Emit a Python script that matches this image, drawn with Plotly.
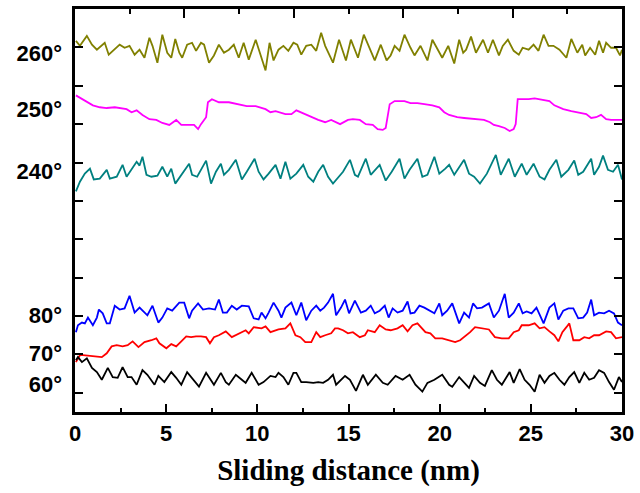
import plotly.graph_objects as go

# ---------------- data (offset units of the stacked plot) ----------------
olive_x = [0.05,0.27,0.65,0.93,1.20,1.63,1.85,2.18,2.45,2.72,2.99,3.27,3.54,3.81,4.08,4.25,4.52,4.79,5.06,5.28,
           5.50,5.72,5.88,6.15,6.42,6.64,6.91,7.08,7.35,7.62,7.89,8.17,8.44,8.71,8.98,9.25,9.53,9.91,10.18,10.45,
           10.67,10.89,11.16,11.43,11.70,11.98,12.19,12.41,12.68,12.96,13.23,13.50,13.72,14.15,14.48,14.70,14.86,15.13,15.52,15.84,
           16.17,16.44,16.77,17.09,17.31,17.53,17.80,18.07,18.40,18.62,18.95,19.33,19.60,19.92,20.14,20.47,20.80,21.07,21.29,21.45,
           21.72,21.99,22.38,22.65,22.92,23.25,23.46,23.74,24.06,24.34,24.55,24.88,25.15,25.42,25.70,25.97,26.24,26.57,26.95,27.22,
           27.55,27.82,27.98,28.25,28.53,28.74,28.96,29.13,29.40,29.67,29.89,30.00]
olive_y = [91.7,90.4,93.0,90.7,89.4,91.2,88.1,89.4,90.7,89.9,90.4,88.1,89.4,87.3,92.5,90.4,86.0,93.3,88.6,87.3,
           92.2,88.6,87.3,90.7,91.2,89.1,91.2,90.7,86.0,87.9,90.7,88.6,89.4,90.7,87.3,91.2,86.8,92.0,87.9,84.0,
           91.2,86.6,89.4,90.4,89.1,91.2,90.7,88.1,90.4,90.7,89.1,93.8,90.4,86.0,92.0,88.6,86.6,92.0,87.3,93.3,
           89.4,86.6,90.7,86.6,87.9,90.4,89.1,93.3,89.9,87.9,90.4,86.6,92.0,89.4,87.3,90.4,85.8,92.0,88.6,89.4,
           92.8,88.6,92.0,88.6,92.0,87.9,90.4,92.0,89.1,88.1,89.9,89.4,90.7,89.1,93.3,90.4,90.4,89.4,87.3,92.2,
           88.6,90.7,87.9,89.9,88.1,91.7,88.6,91.2,89.9,89.9,87.9,89.4]

magenta_x = [0.05,0.38,0.65,0.98,1.36,1.74,2.18,2.83,3.10,3.38,3.70,4.08,4.46,4.79,5.17,5.55,5.83,6.10,6.53,6.75,
             6.91,7.19,7.29,7.51,7.89,8.44,8.98,9.42,9.91,10.45,10.72,11.00,11.54,11.87,12.14,12.63,12.96,13.34,13.72,14.05,
             14.54,14.97,15.24,15.62,15.95,16.33,16.60,16.88,17.04,17.26,17.53,18.07,18.40,18.78,19.16,19.60,19.98,20.25,20.52,20.96,
             21.34,21.89,22.43,22.76,22.97,23.25,23.57,23.84,24.06,24.17,24.28,24.61,24.88,25.21,25.70,26.02,26.29,26.78,27.22,27.49,
             28.04,28.31,28.58,28.85,29.13,29.40,30.00]
magenta_y = [77.5,76.5,75.7,74.9,74.4,74.2,74.4,73.9,73.1,73.6,72.4,71.3,71.1,70.3,69.8,71.1,69.8,69.8,69.8,68.7,
             70.0,71.8,75.7,76.5,75.7,75.7,75.2,74.7,74.7,73.9,73.1,73.4,72.6,72.6,73.6,72.6,71.8,71.1,70.5,71.1,
             70.0,71.1,71.3,71.1,70.0,69.8,68.7,68.5,69.0,75.2,76.0,76.0,75.5,75.5,75.2,74.9,74.4,73.1,72.4,71.8,
             71.6,71.3,71.1,70.5,69.8,69.5,69.0,68.2,68.7,70.0,76.5,76.5,76.5,76.7,76.2,76.0,74.9,73.9,73.4,73.1,
             72.6,71.6,71.8,72.4,71.3,71.1,71.1]

teal_x = [0.05,0.27,0.54,0.82,1.03,1.36,1.74,1.91,2.29,2.61,2.83,3.10,3.38,3.54,3.70,3.92,4.19,4.52,4.79,5.06,
          5.28,5.50,5.83,6.26,6.42,6.70,7.19,7.46,7.73,8.00,8.17,8.44,8.82,9.15,9.42,9.85,10.07,10.34,10.62,11.00,
          11.27,11.54,11.81,12.14,12.52,12.79,13.07,13.34,13.61,13.88,14.15,14.70,15.08,15.35,15.52,15.95,16.22,16.71,17.04,17.37,
          17.80,18.07,18.35,18.78,19.05,19.33,19.71,19.98,20.31,20.52,20.80,21.34,21.61,21.89,22.21,22.59,23.08,23.35,23.79,24.12,
          24.50,24.77,25.15,25.48,25.75,26.02,26.40,26.67,27.06,27.38,27.60,27.87,28.31,28.47,28.74,28.96,29.23,29.51,29.78,30.00]
teal_y = [52.5,55.0,57.1,58.4,55.6,55.8,58.1,55.8,56.3,59.4,56.3,58.1,60.2,59.2,61.5,56.8,56.3,56.6,58.9,56.3,
          58.4,54.5,56.8,59.7,56.8,56.3,60.5,54.5,57.6,59.7,56.8,58.1,60.7,55.6,57.6,61.0,57.6,55.6,57.1,59.4,
          55.8,60.2,55.8,57.1,59.4,56.3,55.0,57.6,59.4,56.3,54.5,57.6,60.7,56.8,56.3,61.0,56.8,59.4,55.3,57.6,
          61.0,55.8,58.1,61.0,56.3,56.8,61.5,57.1,58.4,59.4,56.8,60.7,57.1,56.3,54.5,57.1,62.0,56.8,61.0,56.3,
          59.7,56.8,59.7,56.3,55.6,58.1,60.7,56.3,58.1,60.5,56.8,57.6,61.0,56.8,58.9,61.8,58.1,57.6,59.4,55.6]

blue_x = [0.05,0.16,0.38,0.54,0.71,0.98,1.20,1.31,1.52,1.74,1.91,2.18,2.45,2.72,2.99,3.27,3.54,3.70,3.97,4.25,
          4.57,4.79,5.06,5.33,5.72,5.99,6.26,6.42,6.75,7.02,7.35,7.68,7.89,8.11,8.33,8.60,8.87,9.15,9.53,9.80,
          10.07,10.23,10.45,10.62,10.89,11.16,11.32,11.54,11.87,12.14,12.41,12.68,12.96,13.23,13.45,13.66,13.88,14.15,14.32,14.59,
          14.81,15.03,15.35,15.68,15.95,16.22,16.44,16.71,16.99,17.20,17.42,17.69,17.97,18.24,18.40,18.62,18.89,19.16,19.44,19.71,
          19.98,20.14,20.41,20.69,21.07,21.34,21.61,21.83,22.05,22.32,22.70,22.97,23.25,23.57,23.79,24.06,24.34,24.55,24.77,25.04,
          25.31,25.70,26.02,26.29,26.51,26.78,27.06,27.33,27.60,27.87,28.09,28.31,28.47,28.74,29.02,29.29,29.56,29.78,30.00]
blue_y = [15.8,17.6,18.3,18.1,19.6,17.6,19.6,21.7,20.7,18.1,18.1,22.7,21.7,22.0,25.3,20.9,22.2,21.4,20.2,22.7,
          18.3,19.6,22.0,21.4,23.5,23.5,19.4,21.4,23.3,21.7,22.0,21.7,24.3,20.9,20.9,22.7,21.7,22.7,22.5,19.4,
          19.1,20.9,19.4,20.9,23.5,21.4,19.6,22.2,23.5,20.2,23.5,18.9,21.4,22.7,21.4,22.2,23.5,25.8,20.2,22.2,
          24.3,20.7,24.0,20.9,21.4,22.7,20.7,21.4,22.7,19.6,22.0,20.9,21.4,23.8,20.7,20.9,22.7,22.2,21.4,20.7,
          23.3,20.2,21.4,23.3,18.1,20.9,19.6,23.3,22.0,22.2,23.3,19.6,21.4,25.8,19.6,20.9,23.3,20.7,21.2,20.7,
          22.2,18.1,22.2,23.3,19.1,21.4,22.0,22.0,19.4,19.6,20.9,24.3,20.2,20.9,20.7,21.4,20.7,18.3,17.6]

red_x = [0.05,0.27,0.44,0.93,1.20,1.47,1.74,2.01,2.29,2.61,2.89,3.16,3.48,3.81,4.19,4.46,4.63,4.79,5.01,5.28,
         5.55,5.83,6.10,6.37,6.64,6.91,7.19,7.40,7.62,7.89,8.27,8.60,8.98,9.36,9.53,9.80,10.23,10.45,10.72,11.16,
         11.54,11.81,12.09,12.36,12.63,12.96,13.23,13.45,13.72,14.05,14.26,14.43,14.70,14.97,15.24,15.62,15.90,16.06,16.44,16.71,
         17.04,17.31,17.69,17.97,18.24,18.51,18.78,18.95,19.22,19.49,19.76,20.14,20.52,20.85,21.12,21.39,21.67,21.94,22.32,22.70,
         23.03,23.41,23.79,24.06,24.34,24.50,24.88,25.21,25.48,25.75,26.02,26.29,26.51,26.73,26.95,27.11,27.33,27.66,27.93,28.20,
         28.47,28.74,29.13,29.40,29.67,30.00]
red_y = [8.0,9.8,9.8,9.6,9.3,9.3,10.3,12.1,12.4,12.1,12.4,13.4,11.9,13.2,13.7,14.2,12.9,12.4,11.6,12.7,
         12.1,13.4,14.7,14.5,14.7,14.7,14.5,12.9,14.5,15.0,16.0,14.5,15.5,16.3,15.5,17.1,16.8,17.3,15.8,16.5,
         16.8,18.1,15.0,14.5,13.2,13.2,15.8,14.5,15.0,15.5,16.8,16.8,16.3,15.5,15.8,14.5,15.0,16.3,15.8,17.6,
         16.5,16.3,16.8,17.6,16.0,17.6,18.1,17.1,15.8,15.5,14.2,14.2,13.7,13.2,13.7,14.7,15.8,17.1,16.8,16.5,
         14.5,14.2,14.2,15.8,16.3,17.6,17.6,18.1,16.8,17.1,16.0,15.0,13.4,15.8,17.1,18.1,13.7,13.7,14.5,14.2,
         15.0,15.0,16.0,15.8,14.2,14.5]

black_x = [0.05,0.16,0.38,0.65,0.93,1.20,1.47,1.80,2.07,2.34,2.61,2.89,3.10,3.38,3.70,3.97,4.36,4.57,4.90,5.28,
           5.55,5.83,6.15,6.42,6.80,7.19,7.46,7.62,8.00,8.27,8.44,8.82,9.15,9.36,9.69,10.07,10.34,10.72,11.00,11.16,
           11.43,11.70,11.98,12.14,12.41,12.68,13.07,13.34,13.61,13.88,14.15,14.32,14.81,15.08,15.41,15.79,16.06,16.50,16.88,17.15,
           17.58,17.97,18.35,18.67,19.05,19.33,19.71,20.14,20.52,20.69,21.07,21.34,21.61,21.89,22.21,22.48,22.86,23.14,23.41,23.84,
           24.06,24.39,24.66,24.93,25.21,25.48,25.75,26.02,26.29,26.57,26.84,27.11,27.38,27.66,27.93,28.20,28.47,28.74,29.02,29.29,
           29.56,29.83,30.00]
black_y = [8.5,9.3,8.0,9.0,6.5,5.4,3.4,6.5,4.1,3.9,6.7,4.1,4.1,2.1,5.9,4.7,2.1,4.4,2.8,5.4,
           3.9,2.1,5.4,3.9,1.6,5.2,3.4,2.1,5.2,2.8,2.1,4.7,3.4,2.6,5.2,2.1,2.8,4.4,4.1,5.2,
           4.1,2.1,5.2,5.2,2.8,2.8,2.6,2.8,2.6,3.4,4.7,2.1,4.4,3.4,0.5,4.7,2.1,4.7,2.6,2.1,
           4.4,3.4,4.7,2.1,0.3,2.6,3.4,4.7,2.1,1.6,4.1,2.6,1.3,4.4,2.6,1.8,5.9,3.4,2.1,5.4,
           2.6,6.2,3.4,2.1,0.3,4.7,2.6,4.4,5.2,3.4,2.1,4.1,5.4,2.6,5.2,3.4,3.9,5.9,5.2,2.8,
           0.8,4.1,2.8]

label_pos = [88.4, 73.9, 57.6, 20.2, 10.3, 2.1]
label_text = ["260°", "250°", "240°", "80°", "70°", "60°"]

series = [
    (olive_x, olive_y, "#808000"),
    (magenta_x, magenta_y, "#FF00FF"),
    (teal_x, teal_y, "#008080"),
    (blue_x, blue_y, "#0000FF"),
    (red_x, red_y, "#FF0000"),
    (black_x, black_y, "#000000"),
]

fig = go.Figure()
for xs, ys, c in series:
    fig.add_trace(go.Scatter(x=xs, y=ys, mode="lines", line=dict(color=c, width=1.8),
                             showlegend=False, hoverinfo="skip"))

# helper invisible traces so overlay axes are drawn
fig.add_trace(go.Scatter(x=[0, 30], y=[0, 0], xaxis="x2", yaxis="y", mode="markers",
                         marker=dict(opacity=0), showlegend=False, hoverinfo="skip"))
fig.add_trace(go.Scatter(x=[0, 30], y=[0, 0], xaxis="x", yaxis="y2", mode="markers",
                         marker=dict(opacity=0), showlegend=False, hoverinfo="skip"))

tickfont = dict(family="Liberation Sans, Arial, sans-serif", size=22, color="black", weight="bold")

fig.update_layout(
    width=640, height=493,
    margin=dict(l=75, r=14, t=6, b=81),
    paper_bgcolor="white", plot_bgcolor="white",
    xaxis=dict(range=[0, 30], dtick=5, tick0=0, ticks="inside", ticklen=8, tickwidth=2,
               tickcolor="black",
               minor=dict(dtick=2.5, tick0=0, ticks="inside", ticklen=4, tickwidth=2, tickcolor="black"),
               showline=True, linewidth=3, linecolor="black", mirror=True,
               showgrid=False, zeroline=False, tickfont=tickfont, ticklabelstandoff=0,
               title=dict(text="Sliding distance (nm)", standoff=15,
                          font=dict(family="Liberation Serif, Times New Roman, serif", size=29,
                                    color="black", weight="bold"))),
    xaxis2=dict(range=[0, 30], overlaying="x", side="top", dtick=6, tick0=0,
                ticks="inside", ticklen=9, tickwidth=2, tickcolor="black",
                minor=dict(dtick=3, tick0=0, ticks="inside", ticklen=5, tickwidth=2, tickcolor="black"),
                showticklabels=False, showline=False, showgrid=False, zeroline=False),
    yaxis=dict(range=[-5, 100], dtick=10, tick0=0, ticks="inside", ticklen=8, tickwidth=2,
               tickcolor="black", showticklabels=False,
               showline=True, linewidth=3, linecolor="black", mirror="ticks",
               showgrid=False, zeroline=False),
    yaxis2=dict(range=[-5, 100], overlaying="y", side="left", tickmode="array",
                tickvals=label_pos, ticktext=label_text, ticks="", showline=False,
                showgrid=False, zeroline=False, tickfont=tickfont, ticklabelstandoff=12),
)

fig.write_html("out.html", config={"displayModeBar": False},
               post_script="document.body.style.margin='0px';")
